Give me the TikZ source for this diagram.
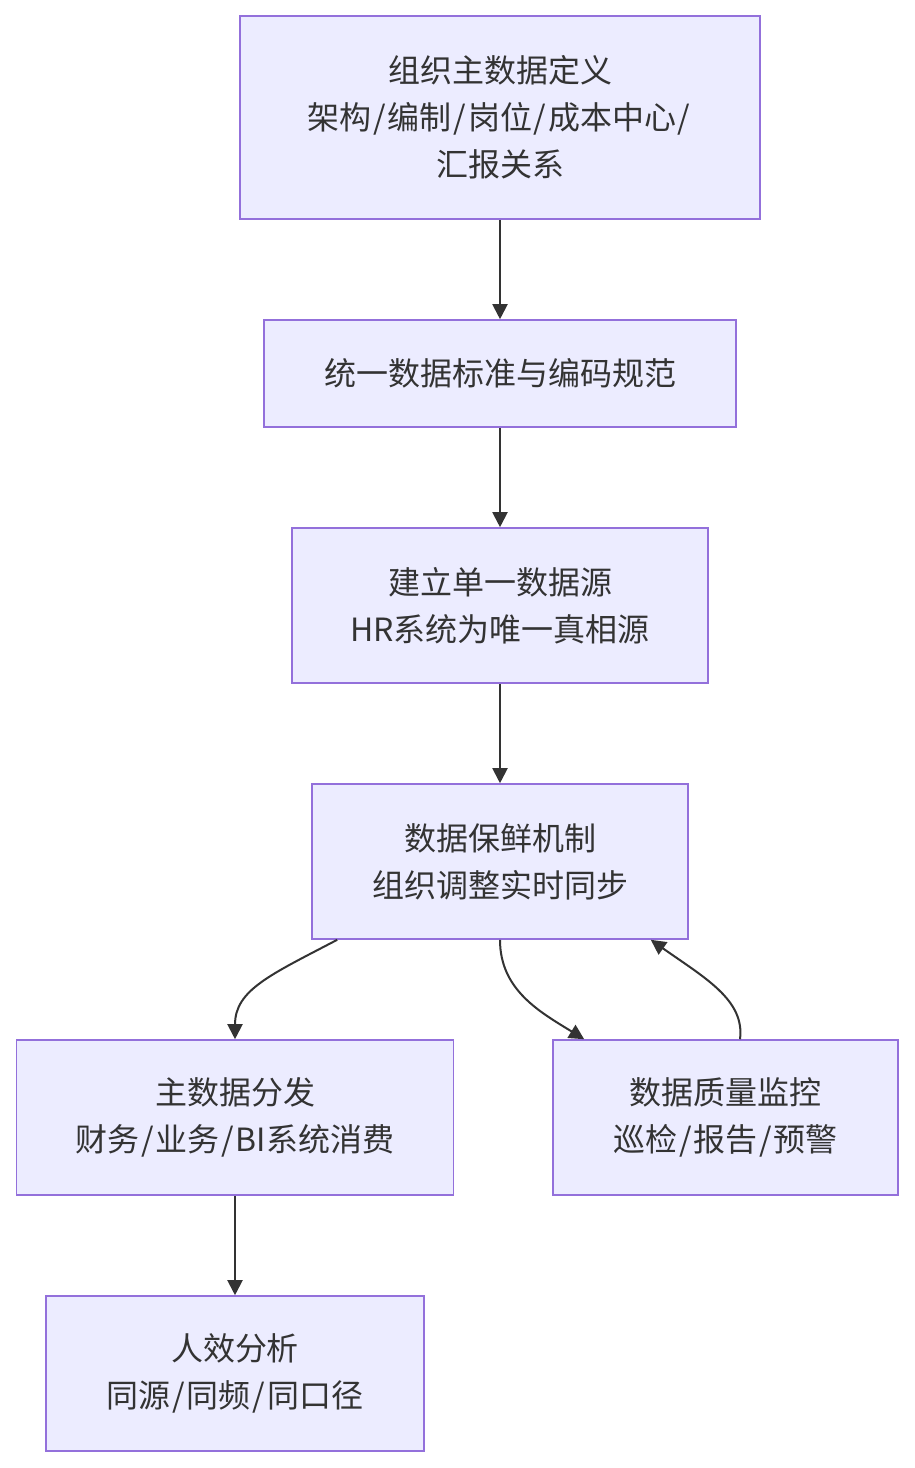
\documentclass[tikz,border=0pt]{standalone}
\usepackage{fontspec}
\setmainfont{Noto Sans CJK SC}
\usetikzlibrary{arrows.meta}
\definecolor{boxfill}{HTML}{ECECFF}
\definecolor{boxline}{HTML}{9370DB}
\definecolor{ink}{HTML}{333333}
\newcommand{\slsep}{\kern1.8pt/\kern1.8pt}
\begin{document}
\begin{tikzpicture}[x=1pt,y=-1pt,
  box/.style={draw=boxline,fill=boxfill,line width=1.6pt,rectangle,inner sep=0pt,
    align=center,text=ink,font=\fontsize{32}{47}\selectfont},
  conn/.style={draw=ink,line width=2pt,-{Triangle[length=15pt,width=15pt]}}]
\fill[white] (0,0) rectangle (914,1468);
\useasboundingbox (0,0) rectangle (914,1468);
\node[box,minimum width=520pt,minimum height=203pt] (A) at (500,117.5) {组织主数据定义\\架构\slsep 编制\slsep 岗位\slsep 成本中心\slsep\\汇报关系};
\node[box,minimum width=472pt,minimum height=107pt] (B) at (500,373.5) {统一数据标准与编码规范};
\node[box,minimum width=416pt,minimum height=155pt] (C) at (500,605.5) {建立单一数据源\\HR系统为唯一真相源};
\node[box,minimum width=376pt,minimum height=155pt] (D) at (500,861.5) {数据保鲜机制\\组织调整实时同步};
\node[box,minimum width=437pt,minimum height=155pt] (E) at (235,1117.5) {主数据分发\\财务\slsep 业务\slsep BI系统消费};
\node[box,minimum width=345pt,minimum height=155pt] (F) at (725.5,1117.5) {数据质量监控\\巡检\slsep 报告\slsep 预警};
\node[box,minimum width=378pt,minimum height=155pt] (G) at (235,1373.5) {人效分析\\同源\slsep 同频\slsep 同口径};
\draw[conn] (A.south) -- (B.north);
\draw[conn] (B.south) -- (C.north);
\draw[conn] (C.south) -- (D.north);
\draw[conn] ([xshift=26pt]D.south west) .. controls (270,975) and (235,990) .. (E.north);
\draw[conn] (D.south) .. controls (500,990) and (540,1012) .. ([xshift=32pt]F.north west);
\draw[conn] ([xshift=14.5pt]F.north) .. controls (745,1000) and (705,978) .. ([xshift=-38pt]D.south east);
\draw[conn] (E.south) -- (G.north);
\end{tikzpicture}
\end{document}
